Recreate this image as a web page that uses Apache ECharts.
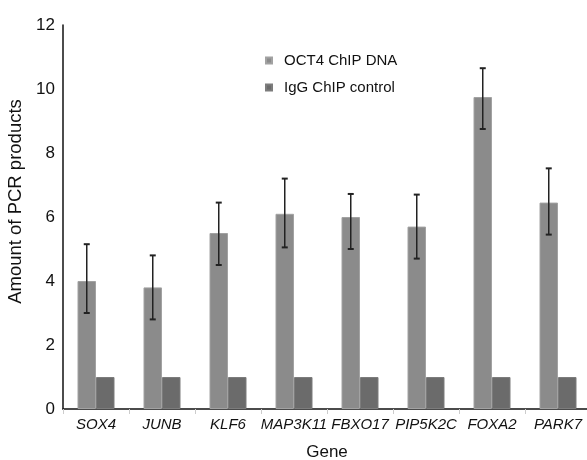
<!DOCTYPE html>
<html>
<head>
<meta charset="utf-8">
<script src="https://cdn.jsdelivr.net/npm/echarts@6/dist/echarts.min.js"></script>
<style>
html,body{margin:0;padding:0;background:#fff;}
#chart{width:587px;height:460px;}
</style>
</head>
<body>
<div id="chart"></div>
<script>
const genes = ['SOX4', 'JUNB', 'KLF6', 'MAP3K11', 'FBXO17', 'PIP5K2C', 'FOXA2', 'PARK7'];
const oct4Values = [4.0, 3.8, 5.5, 6.1, 6.0, 5.7, 9.75, 6.45];
const oct4ErrLow = [3.0, 2.8, 4.5, 5.05, 5.0, 4.7, 8.75, 5.45];
const oct4ErrHigh = [5.15, 4.8, 6.45, 7.2, 6.72, 6.7, 10.65, 7.52];
const iggValues = [1, 1, 1, 1, 1, 1, 1, 1];
const yTicks = [0, 2, 4, 6, 8, 10, 12];

const BAR_W = 18.5;
const chart = echarts.init(document.getElementById('chart'));
const errData = genes.map((g, i) => [i, oct4ErrLow[i], oct4ErrHigh[i]]);

chart.setOption({
  animation: false,
  textStyle: {fontFamily: 'Liberation Sans, Arial, sans-serif'},
  grid: {left: 63, right: -4, top: 25, bottom: 51, containLabel: false, outerBoundsMode: 'none'},
  legend: {
    orient: 'vertical', left: 260, top: 48, itemWidth: 6, itemHeight: 6, itemGap: 12,
    icon: 'rect',
    textStyle: {fontSize: 15, color: '#111', padding: [0, 0, 0, 7]},
    data: ['OCT4 ChIP DNA', 'IgG ChIP control']
  },
  xAxis: {
    type: 'category', data: genes,
    name: 'Gene', nameLocation: 'middle', nameGap: 35,
    nameTextStyle: {fontSize: 17, color: '#111'},
    axisLine: {lineStyle: {color: '#111', width: 1.5}},
    axisTick: {show: true, length: 5, lineStyle: {color: '#ccc'}},
    axisLabel: {fontSize: 15, fontStyle: 'italic', color: '#111', margin: 8, interval: 0}
  },
  yAxis: {
    type: 'value', min: 0, max: 12, interval: 2,
    name: 'Amount of PCR products', nameLocation: 'middle', nameGap: 30,
    nameTextStyle: {fontSize: 18.5, color: '#111', padding: [0, 0, 0, 31]},
    axisLine: {show: true, lineStyle: {color: '#111', width: 1.5}},
    axisTick: {show: false},
    splitLine: {show: false},
    axisLabel: {fontSize: 17, color: '#111', margin: 8,
      formatter: v => yTicks.includes(v) ? String(v) : ''}
  },
  series: [
    {
      name: 'OCT4 ChIP DNA', type: 'bar', data: oct4Values, barWidth: BAR_W, barGap: '0%',
      itemStyle: {color: '#8b8b8b', borderColor: '#a2a2a2', borderWidth: 1}
    },
    {
      name: 'IgG ChIP control', type: 'bar', data: iggValues, barWidth: BAR_W,
      itemStyle: {color: '#6b6b6b', borderColor: '#7c7c7c', borderWidth: 1}
    },
    {
      type: 'custom', name: 'err', data: errData, z: 10,
      renderItem: function (params, api) {
        const idx = api.value(0);
        const lo = api.coord([idx, api.value(1)]);
        const hi = api.coord([idx, api.value(2)]);
        const x = lo[0] - BAR_W / 2;
        const cw = 3;
        const style = {stroke: '#222', lineWidth: 1.5};
        return {
          type: 'group',
          children: [
            {type: 'line', shape: {x1: x, y1: lo[1], x2: x, y2: hi[1]}, style: style},
            {type: 'line', shape: {x1: x - cw, y1: lo[1], x2: x + cw, y2: lo[1]}, style: {stroke: '#222', lineWidth: 2}},
            {type: 'line', shape: {x1: x - cw, y1: hi[1], x2: x + cw, y2: hi[1]}, style: {stroke: '#222', lineWidth: 2}}
          ]
        };
      }
    }
  ]
});
</script>
</body>
</html>
